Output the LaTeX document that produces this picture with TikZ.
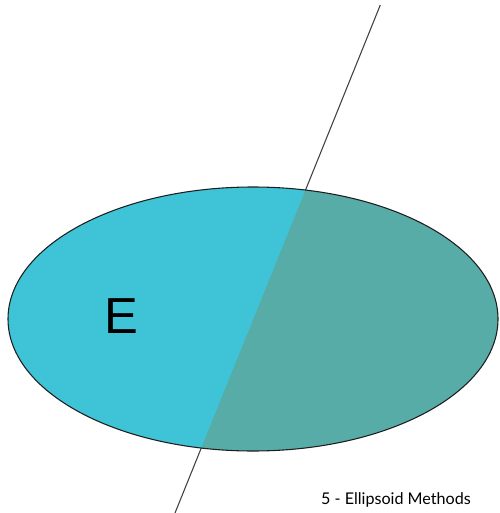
\documentclass[tikz,border=0pt]{standalone}
\usepackage{fontspec}
\setmainfont{Lato}
\newfontfamily\letterfont{Liberation Sans}
\definecolor{setCyan}{RGB}{62, 196, 214}
\definecolor{setTeal}{RGB}{88, 172, 168}
\definecolor{edgeDark}{RGB}{30, 30, 30}

\begin{document}
\begin{tikzpicture}[
  x=0.75pt,y=-0.75pt,
  outline/.style={draw=edgeDark, line width=.8pt},
  cutline/.style={draw=edgeDark!85, line width=.8pt},
  letter/.style={font=\letterfont\fontsize{38}{38}\selectfont, text=black},
  caption/.style={font=\fontsize{12.1}{14}\selectfont, text=black}
]
\path[use as bounding box] (0,0) rectangle (499,513);

% the cutting line, partly hidden by the body
\coordinate (lineTop) at (380.3,5);
\coordinate (lineBot) at (175,513);
\draw[cutline] (lineTop) -- (lineBot);

% ellipsoid body, split by the line
\begin{scope}
  \clip (253,319) ellipse [x radius=245, y radius=132];
  \fill[setCyan] (0,0) rectangle (499,513);
  \fill[setTeal] (lineTop) -- (lineBot) -- (499,513) -- (499,5) -- cycle;
\end{scope}
\draw[outline] (253,319) ellipse [x radius=245, y radius=132];

\node[letter] (ellLabel) at (121,316) {E};
\node[caption] (slideNote) at (396,500) {5 - Ellipsoid Methods};
\end{tikzpicture}
\end{document}
